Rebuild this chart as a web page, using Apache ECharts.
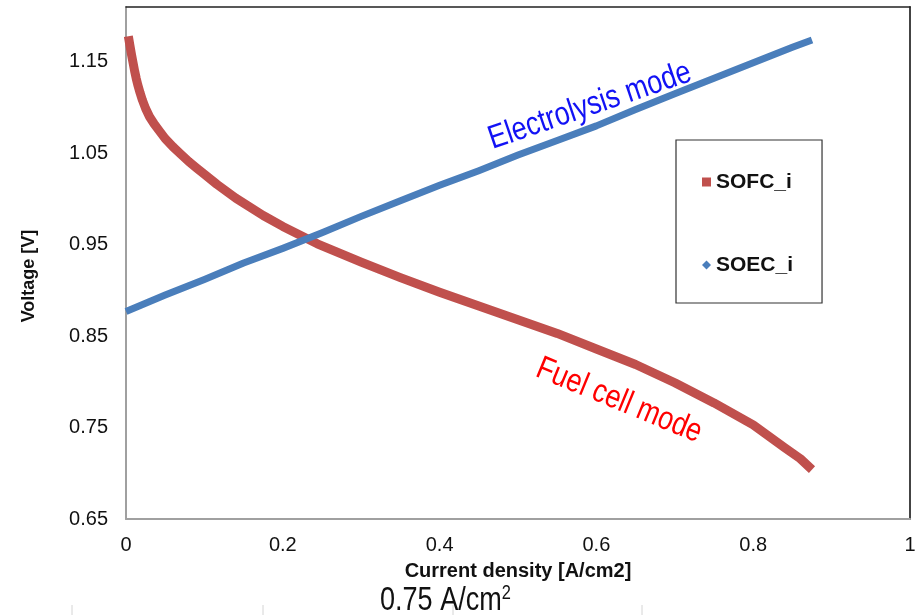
<!DOCTYPE html>
<html>
<head>
<meta charset="utf-8">
<title>SOFC / SOEC polarisation curves</title>
<script src="https://cdn.jsdelivr.net/npm/echarts@6/dist/echarts.min.js"></script>
<style>
  html, body { margin: 0; padding: 0; background: #fff; }
  #chart { width: 920px; height: 615px; }
</style>
</head>
<body>
<div id="chart"></div>
<script>
// Fuel cell (SOFC) branch: current density [A/cm2] and cell voltage [V]
const sofcCurrent = [0.003, 0.005, 0.007, 0.009, 0.011, 0.013, 0.015, 0.018, 0.021, 0.025,
  0.030, 0.036, 0.043, 0.050, 0.060, 0.070, 0.080, 0.090, 0.100, 0.116,
  0.140, 0.175, 0.200, 0.244, 0.300, 0.350, 0.400, 0.450, 0.500, 0.550,
  0.600, 0.650, 0.700, 0.750, 0.800, 0.840, 0.860, 0.875];
const sofcVoltage = [1.178, 1.168, 1.158, 1.149, 1.140, 1.132, 1.125, 1.116, 1.108, 1.099,
  1.090, 1.082, 1.074, 1.066, 1.057, 1.049, 1.041, 1.034, 1.027, 1.016,
  1.001, 0.982, 0.970, 0.951, 0.931, 0.914, 0.898, 0.883, 0.868, 0.853,
  0.836, 0.819, 0.799, 0.777, 0.753, 0.728, 0.716, 0.704];

// Electrolysis (SOEC) branch
const soecCurrent = [0.000, 0.025, 0.050, 0.100, 0.150, 0.200, 0.250, 0.300, 0.350, 0.400,
  0.450, 0.500, 0.550, 0.600, 0.650, 0.700, 0.750, 0.800, 0.850, 0.875];
const soecVoltage = [0.877, 0.886, 0.895, 0.912, 0.930, 0.946, 0.963, 0.981, 0.998, 1.015,
  1.031, 1.048, 1.064, 1.080, 1.098, 1.115, 1.132, 1.149, 1.166, 1.174];

const seriesNames = ['SOFC_i', 'SOEC_i'];
const modeLabels = ['Electrolysis mode', 'Fuel cell mode'];
const operatingPoint = '0.75 A/cm';

const zip = (xs, ys) => xs.map((x, i) => [x, ys[i]]);

const FONT = "'Liberation Sans', Arial, sans-serif";

const chart = echarts.init(document.getElementById('chart'), null, { renderer: 'canvas' });

chart.setOption({
  animation: false,
  backgroundColor: '#ffffff',
  grid: { left: 126, right: 10, top: 7, bottom: 96 },
  xAxis: [{
    type: 'value', min: 0, max: 1, interval: 0.2,
    name: 'Current density [A/cm2]',
    nameLocation: 'middle', nameGap: 42,
    nameTextStyle: { fontFamily: FONT, fontWeight: 'bold', fontSize: 20, color: '#111' },
    axisLine: { show: true, onZero: false, lineStyle: { color: '#a0a0a0', width: 2 } },
    axisTick: { show: false },
    splitLine: { show: false },
    axisLabel: { fontFamily: FONT, fontSize: 20, color: '#111', margin: 16 }
  }, {
    type: 'value', min: 0, max: 1, position: 'top',
    axisLine: { show: true, onZero: false, lineStyle: { color: '#222', width: 1.5 } },
    axisTick: { show: false }, axisLabel: { show: false }, splitLine: { show: false }
  }],
  yAxis: [{
    type: 'value', min: 0.65, max: 1.21, interval: 0.1,
    name: 'Voltage [V]',
    nameLocation: 'middle', nameGap: 88, nameRotate: 90,
    nameTextStyle: { fontFamily: FONT, fontWeight: 'bold', fontSize: 18, color: '#111', padding: [0, 26, 0, 0] },
    axisLine: { show: true, onZero: false, lineStyle: { color: '#a0a0a0', width: 2 } },
    axisTick: { show: false },
    splitLine: { show: false },
    axisLabel: {
      fontFamily: FONT, fontSize: 20, color: '#111', margin: 18,
      showMaxLabel: false,
      formatter: v => v.toFixed(2)
    }
  }, {
    type: 'value', min: 0.65, max: 1.21, position: 'right',
    axisLine: { show: true, onZero: false, lineStyle: { color: '#444', width: 2 } },
    axisTick: { show: false }, axisLabel: { show: false }, splitLine: { show: false }
  }],
  legend: {
    orient: 'vertical',
    left: 676, top: 140,
    padding: [30, 29, 26, 26],
    itemGap: 59,
    itemWidth: 9, itemHeight: 9,
    borderColor: '#333', borderWidth: 1.2,
    textStyle: { fontFamily: FONT, fontWeight: 'bold', fontSize: 21, color: '#111', lineHeight: 24 },
    data: [
      { name: seriesNames[0], icon: 'rect' },
      { name: seriesNames[1], icon: 'diamond' }
    ]
  },
  series: [{
    name: seriesNames[0],
    type: 'line',
    data: zip(sofcCurrent, sofcVoltage),
    smooth: false,
    symbol: 'none',
    color: '#C0504D',
    lineStyle: { color: '#C0504D', width: 9, join: 'round' },
    z: 3
  }, {
    name: seriesNames[1],
    type: 'line',
    data: zip(soecCurrent, soecVoltage),
    smooth: false,
    symbol: 'none',
    color: '#4A7EBB',
    lineStyle: { color: '#4A7EBB', width: 7, join: 'round' },
    z: 4
  }],
  graphic: [
    {
      type: 'text', x: 495, y: 156, rotation: 0.33, scaleX: 0.82,
      style: { text: modeLabels[0], fill: '#1212F5', font: "33px 'Liberation Sans', Arial, sans-serif",
               textAlign: 'left', textVerticalAlign: 'bottom' }
    },
    {
      type: 'text', x: 544, y: 352, rotation: -0.39, scaleX: 0.82,
      style: { text: modeLabels[1], fill: '#FF0000', font: "33px 'Liberation Sans', Arial, sans-serif",
               textAlign: 'left', textVerticalAlign: 'top' }
    },
    {
      type: 'text', x: 380, y: 583, scaleX: 0.82,
      style: {
        text: '{a|' + operatingPoint + '}{s|2}',
        rich: {
          a: { fontFamily: FONT, fontSize: 33, fill: '#111', verticalAlign: 'bottom' },
          s: { fontFamily: FONT, fontSize: 20, fill: '#111', verticalAlign: 'top', padding: [0, 0, 14, 0] }
        }
      }
    },
    { type: 'line', shape: { x1: 72, y1: 605, x2: 72, y2: 615 }, style: { stroke: '#d4d4d4', lineWidth: 1 } },
    { type: 'line', shape: { x1: 263, y1: 605, x2: 263, y2: 615 }, style: { stroke: '#d4d4d4', lineWidth: 1 } },
    { type: 'line', shape: { x1: 453, y1: 605, x2: 453, y2: 615 }, style: { stroke: '#d4d4d4', lineWidth: 1 } },
    { type: 'line', shape: { x1: 642, y1: 605, x2: 642, y2: 615 }, style: { stroke: '#d4d4d4', lineWidth: 1 } }
  ]
});
</script>
</body>
</html>
